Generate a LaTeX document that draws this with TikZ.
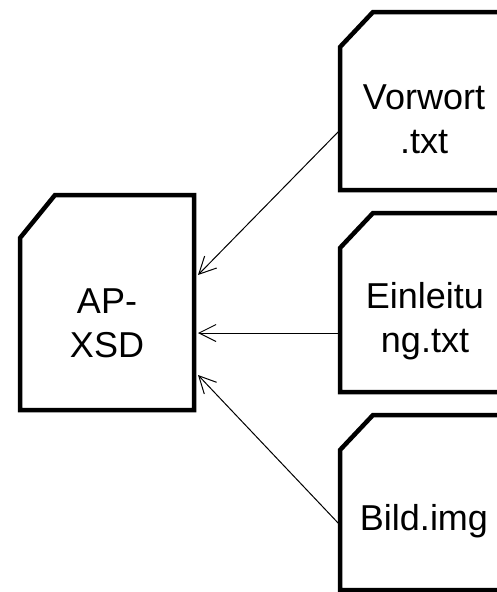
\documentclass[tikz,border=0pt]{standalone}
\usepackage{fontspec}
\setmainfont{Liberation Sans}
\usetikzlibrary{arrows.meta}

\begin{document}
\begin{tikzpicture}[x=1pt, y=-1pt]
\tikzset{
  docline/.style={line width=4.5pt, line join=miter},
  doctext/.style={align=center, font=\fontsize{36}{44}\selectfont},
  linkarrow/.style={line width=1pt, -{Straight Barb[length=17pt, width=17pt, line width=1pt]}}
}
\useasboundingbox (0,0) rectangle (497,592);

% Dokument AP-XSD
\draw[docline] (55,195) -- (194,195) -- (194,410) -- (20,410) -- (20,238) -- cycle;
% Dokumente rechts
\draw[docline] (373,12) -- (514,12) -- (514,190) -- (340,190) -- (340,47) -- cycle;
\draw[docline] (373,213) -- (514,213) -- (514,392) -- (340,392) -- (340,248) -- cycle;
\draw[docline] (373,415) -- (514,415) -- (514,590) -- (340,590) -- (340,450) -- cycle;

% Beschriftungen
\node[doctext] (xsd) at (107,323) {AP-\\XSD};
\node[doctext] (vorwort) at (424,119) {Vorwort\\.txt};
\node[doctext] (einl) at (425,321) {Einleitu\\ng.txt};
\node[doctext] (bild) at (424,521) {Bild.img};

% Anschlusspunkte
\coordinate (vorwortOut) at (340,130);
\coordinate (einlOut) at (340,333);
\coordinate (bildOut) at (340,525);
\coordinate (xsdInA) at (198,275);
\coordinate (xsdInB) at (198,333);
\coordinate (xsdInC) at (198,375);

% Pfeile
\draw[linkarrow] (vorwortOut) -- (xsdInA);
\draw[linkarrow] (einlOut) -- (xsdInB);
\draw[linkarrow] (bildOut) -- (xsdInC);
\end{tikzpicture}
\end{document}
